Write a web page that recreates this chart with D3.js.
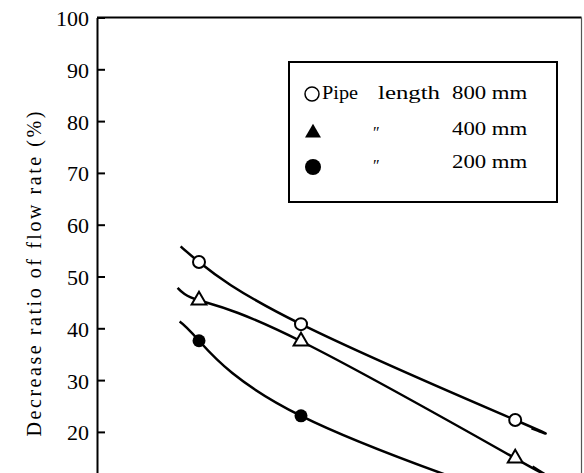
<!DOCTYPE html>
<html>
<head>
<meta charset="utf-8">
<script src="https://cdn.jsdelivr.net/npm/d3@7"></script>
<style>
  body { margin: 0; background: #fff; overflow: hidden; }
  svg { display: block; overflow: hidden; }
  svg text { font-family: "Liberation Serif", "Times New Roman", serif; }
</style>
</head>
<body>
<script>
// Data (x axis is cut off, units are relative)
const xValues = [1, 2, 4.1];
const pipe800 = [52.8, 40.8, 22.3];
const pipe400 = [45.4, 37.5, 14.9];
const pipe200 = [37.6, 23.1, 7.0];

// where each fitted curve begins and ends (series order: 800, 400, 200)
const curveStartX = [0.82, 0.79, 0.81];
const curveStartY = [55.8, 47.8, 41.3];
const curveEndX = [4.26, 4.27, 4.27];
const curveEndY = [20.7, 13.3, 5.8];

const yTicks = [20, 30, 40, 50, 60, 70, 80, 90, 100];
const legendSizes = ["800 mm", "400 mm", "200 mm"];
const yLabel = "Decrease ratio of flow rate (%)";

const width = 584, height = 473;

const svg = d3.select("body").append("svg")
  .attr("width", width)
  .attr("height", height);

// Scales
const x = d3.scaleLinear().domain([0, 4.75]).range([97, 581.5]);
const y = d3.scaleLinear().domain([0, 100]).range([535.5, 17.5]);

// Frame: top and right edges
svg.append("line")
  .attr("x1", x(0)).attr("x2", x(4.75))
  .attr("y1", y(100)).attr("y2", y(100))
  .attr("stroke", "#000").attr("stroke-width", 2);
svg.append("line")
  .attr("x1", x(4.75)).attr("x2", x(4.75))
  .attr("y1", y(100)).attr("y2", height)
  .attr("stroke", "#555").attr("stroke-width", 1.2);

// Y axis with inward ticks
const yAxis = svg.append("g")
  .attr("transform", `translate(${x(0)},0)`)
  .call(d3.axisLeft(y).tickValues(yTicks).tickSize(-8).tickSizeOuter(0).tickPadding(8));
yAxis.attr("font-family", null);
yAxis.select(".domain").attr("stroke-width", 2);
yAxis.selectAll(".tick line").attr("stroke-width", 2);
yAxis.selectAll(".tick text")
  .style("font-size", "22px")
  .attr("fill", "#000")
  .attr("dy", "0.36em");

// Axis title
svg.append("text")
  .attr("transform", `translate(41,274) rotate(-90)`)
  .attr("text-anchor", "middle")
  .style("font-size", "20px")
  .attr("textLength", 325)
  .attr("lengthAdjust", "spacing")
  .text(yLabel);

// Curves
const series = [pipe800, pipe400, pipe200];
const line = d3.line()
  .x(d => x(d[0]))
  .y(d => y(d[1]))
  .curve(d3.curveNatural);

series.forEach((vals, i) => {
  const pts = [[curveStartX[i], curveStartY[i]]]
    .concat(xValues.map((xv, j) => [xv, vals[j]]))
    .concat([[curveEndX[i], curveEndY[i]]]);
  svg.append("path")
    .attr("d", line(pts))
    .attr("fill", "none")
    .attr("stroke", "#000")
    .attr("stroke-width", 2.5);
});

// Markers
const tri = d3.symbol().type(d3.symbolTriangle).size(95);

svg.selectAll(".m800")
  .data(xValues.map((xv, j) => [xv, pipe800[j]]))
  .enter().append("circle")
  .attr("cx", d => x(d[0])).attr("cy", d => y(d[1]))
  .attr("r", 6)
  .attr("fill", "#fff").attr("stroke", "#000").attr("stroke-width", 2);

svg.selectAll(".m400")
  .data(xValues.map((xv, j) => [xv, pipe400[j]]))
  .enter().append("path")
  .attr("d", tri)
  .attr("transform", d => `translate(${x(d[0])},${y(d[1])})`)
  .attr("fill", "#fff").attr("stroke", "#000").attr("stroke-width", 2);

svg.selectAll(".m200")
  .data(xValues.map((xv, j) => [xv, pipe200[j]]))
  .enter().append("circle")
  .attr("cx", d => x(d[0])).attr("cy", d => y(d[1]))
  .attr("r", 6.5)
  .attr("fill", "#000");

// Legend
const lg = svg.append("g");
lg.append("rect")
  .attr("x", 289).attr("y", 62)
  .attr("width", 268).attr("height", 140)
  .attr("fill", "#fff").attr("stroke", "#000").attr("stroke-width", 2);

const rowY = [99, 135, 168];
lg.append("circle").attr("cx", 312).attr("cy", 94).attr("r", 7)
  .attr("fill", "none").attr("stroke", "#000").attr("stroke-width", 1.5);
lg.append("path").attr("d", d3.symbol().type(d3.symbolTriangle).size(110))
  .attr("transform", "translate(313,133)").attr("fill", "#000");
lg.append("circle").attr("cx", 313).attr("cy", 167).attr("r", 8).attr("fill", "#000");

lg.append("text").attr("x", 322).attr("y", rowY[0])
  .style("font-size", "19px")
  .attr("textLength", 36).attr("lengthAdjust", "spacingAndGlyphs")
  .text("Pipe");
lg.append("text").attr("x", 378).attr("y", rowY[0])
  .style("font-size", "19px")
  .attr("textLength", 62).attr("lengthAdjust", "spacingAndGlyphs")
  .text("length");
[1, 2].forEach(i => {
  lg.append("text").attr("x", 372).attr("y", rowY[i] + 3)
    .style("font-size", "16px").style("font-style", "italic")
    .text("\u2033");
});
legendSizes.forEach((s, i) => {
  lg.append("text")
    .attr("transform", `translate(452,${rowY[i]}) scale(1.2,1)`)
    .style("font-size", "19px")
    .text(s);
});
</script>
</body>
</html>
